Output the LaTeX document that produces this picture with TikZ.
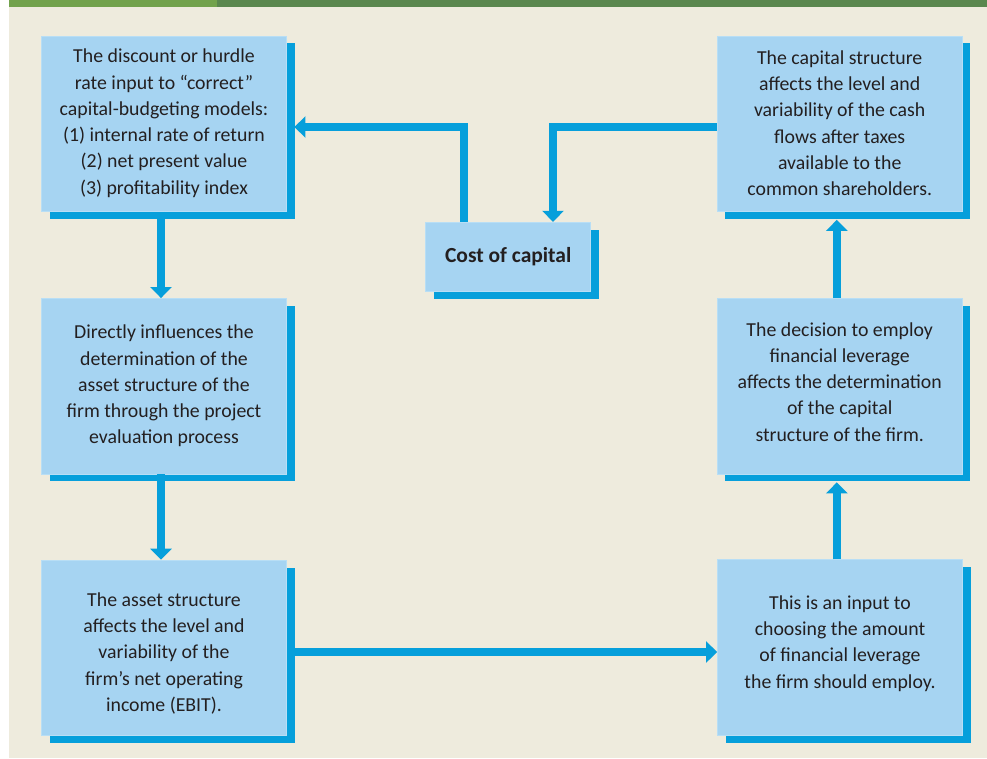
\documentclass[tikz,border=0pt]{standalone}
\usepackage{fontspec}
\setmainfont{Carlito}
\usetikzlibrary{arrows.meta,shadows}
\definecolor{pagebg}{HTML}{EEEBDD}
\definecolor{boxfill}{HTML}{A6D4F2}
\definecolor{boxedge}{HTML}{B8DEF5}
\definecolor{flow}{HTML}{069FDB}
\definecolor{barlight}{HTML}{72A24C}
\definecolor{bardark}{HTML}{5A874E}
\definecolor{ink}{HTML}{231F20}
\begin{document}
\begin{tikzpicture}[x=1pt,y=-1pt,
  panel/.style={rectangle, fill=boxfill, draw=boxedge, line width=0.8pt,
    inner sep=0pt, minimum width=245pt, minimum height=175.5pt,
    drop shadow={shadow xshift=8pt, shadow yshift=-7.5pt, fill=flow, opacity=1, draw=none}},
  note/.style={inner sep=0pt, align=center, text=ink,
    font=\fontsize{19.8}{26.25}\selectfont},
  flowline/.style={draw=flow, line width=8pt, line join=miter},
  tip/.style={-{Triangle[width=21pt,length=11pt]}}
]
% page, margin strip and header bar
\fill[white] (0,0) rectangle (987,758);
\fill[pagebg] (9,0) rectangle (987,758);
\fill[bardark] (9,0) rectangle (987,7.3);
\fill[barlight] (9,0) rectangle (217,7.3);
\useasboundingbox (0,0) rectangle (987,758);

% boxes
\node[panel] (rate) at (164,123.7) {};
\node[panel] (cap) at (839.7,123.7) {};
\node[panel, minimum width=165pt, minimum height=69.5pt] (cost) at (508.2,257) {};
\node[panel] (asset) at (164,386.2) {};
\node[panel] (lev) at (839.7,386.2) {};
\node[panel] (ebit) at (164,647.8) {};
\node[panel] (input) at (840,647.5) {};

% box texts
\node[note] (ratetext) at ([yshift=0.5pt]rate.center) {The discount or hurdle\\rate input to ``correct''\\capital-budgeting models:\\(1) internal rate of return\\(2) net present value\\(3) profitability index};
\node[note] (captext) at ([yshift=0.5pt]cap.center) {The capital structure\\affects the level and\\variability of the cash\\flows after taxes\\available to the\\common shareholders.};
\node[note, font=\fontsize{21.5}{26.25}\selectfont\bfseries] (costtext) at (cost.center) {Cost of capital};
\node[note] (assettext) at (asset.center) {Directly influences the\\determination of the\\asset structure of the\\firm through the project\\evaluation process};
\node[note] (levtext) at ([yshift=4.5pt]lev.center) {The decision to employ\\financial leverage\\affects the determination\\of the capital\\structure of the firm.};
\node[note] (ebittext) at ([yshift=-5.5pt]ebit.center) {The asset structure\\affects the level and\\variability of the\\firm’s net operating\\income (EBIT).};
\node[note] (inputtext) at ([yshift=4pt]input.center) {This is an input to\\choosing the amount\\of financial leverage\\the firm should employ.};

% connectors
\draw[flowline,tip] ([xshift=-44pt]cost.north) |- ([xshift=7.5pt,yshift=-3.3pt]rate.east);
\draw[flowline,tip] ([yshift=-3.3pt]cap.west) -| ([xshift=44.8pt]cost.north);
\draw[flowline,tip] ([xshift=-3pt]rate.south) -- ([xshift=-3pt]asset.north);
\draw[flowline,tip] ([xshift=-3pt]asset.south) -- ([xshift=-3pt]ebit.north);
\draw[flowline,tip] ([xshift=7.5pt,yshift=-4.2pt]ebit.east) -- ([yshift=-4.5pt]input.west);
\draw[flowline,tip] ([xshift=-3.2pt]input.north) -- ([xshift=-2.9pt,yshift=-8pt]lev.south);
\draw[flowline,tip] ([xshift=-2.9pt]lev.north) -- ([xshift=-2.9pt,yshift=-8pt]cap.south);
\end{tikzpicture}
\end{document}
